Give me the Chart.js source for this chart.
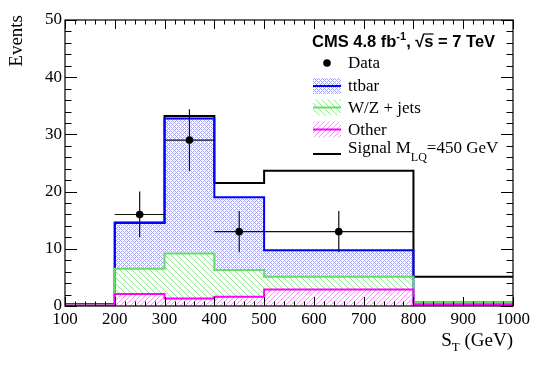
<!DOCTYPE html>
<html lang="en">
<head>
<meta charset="UTF-8">
<title>S_T distribution</title>
<script src="https://cdn.jsdelivr.net/npm/chart.js"></script>
<style>
  body { margin: 0; padding: 0; background: #fff; }
  #wrap { width: 540px; height: 366px; }
</style>
</head>
<body>
<div id="wrap"><canvas id="stChart"></canvas></div>
<script>
// bin edges in S_T (GeV)
const binEdges = [100, 200, 300, 400, 500, 800, 1000];
// per-bin yields, stacked in this order: other, W/Z + jets, ttbar, signal
const otherYield  = [0.1, 2.1, 1.3, 1.6, 2.9, 0.25];
const wzYield     = [0.1, 4.4, 7.9, 4.7, 2.2, 0.35];
const ttbarYield  = [0.1, 8.0, 23.6, 12.7, 4.65, 0.0];
const signalYield = [0.0, 0.1, 0.4, 2.5, 13.9, 4.5];
// data points
const dataX = [250, 350, 450, 650];
const dataY = [16, 29, 13, 13];
const dataErr = [4.0, 5.4, 3.6, 3.6];
const dataBinLo = [200, 300, 400, 500];
const dataBinHi = [300, 400, 500, 800];
// tick labels
const xTickValues = [100, 200, 300, 400, 500, 600, 700, 800, 900, 1000];
const yTickValues = [0, 10, 20, 30, 40, 50];

const SERIF = '"Liberation Serif", "DejaVu Serif", serif';
const SANS = '"Liberation Sans", Arial, sans-serif';

// cumulative stack
function addArr(a, b) { return a.map((v, i) => v + b[i]); }
const stackOther = otherYield.slice();
const stackWZ = addArr(stackOther, wzYield);
const stackTT = addArr(stackWZ, ttbarYield);
const stackSig = addArr(stackTT, signalYield);

// histogram as step points at bin edges
function toSteps(vals) {
    const pts = vals.map((v, i) => ({ x: binEdges[i], y: v }));
    pts.push({ x: binEdges[binEdges.length - 1], y: vals[vals.length - 1] });
    return pts;
}

// pixel hatch patterns (ROOT style)
function makePattern(size, color, test) {
    const c = document.createElement('canvas');
    c.width = size; c.height = size;
    const g = c.getContext('2d');
    g.fillStyle = color;
    for (let x = 0; x < size; x++) {
        for (let y = 0; y < size; y++) {
            if (test(x, y)) g.fillRect(x, y, 1, 1);
        }
    }
    return g.createPattern(c, 'repeat');
}
const ttbarFill = makePattern(4, 'rgba(90,90,255,0.55)', (x, y) => (x + y) % 4 === 0 || (x - y + 4) % 4 === 0);
const wzFill = makePattern(6, 'rgba(140,225,140,0.9)', (x, y) => (x - y + 6) % 6 === 0);
const otherFill = makePattern(5, 'rgba(255,120,255,0.85)', (x, y) => (x + y) % 5 === 0);

const xAxisH = 60, yAxisW = 65;

// error bars on the data points
const errorBars = {
    id: 'errorBars',
    afterDatasetsDraw(chart) {
        const ctx = chart.ctx, xs = chart.scales.x, ys = chart.scales.y;
        ctx.save();
        ctx.strokeStyle = '#111';
        ctx.lineWidth = 1.2;
        dataX.forEach((x, i) => {
            const px = xs.getPixelForValue(x), py = ys.getPixelForValue(dataY[i]);
            ctx.beginPath();
            ctx.moveTo(xs.getPixelForValue(dataBinLo[i]), py);
            ctx.lineTo(xs.getPixelForValue(dataBinHi[i]), py);
            ctx.moveTo(px, ys.getPixelForValue(dataY[i] + dataErr[i]));
            ctx.lineTo(px, ys.getPixelForValue(dataY[i] - dataErr[i]));
            ctx.stroke();
            ctx.beginPath();
            ctx.fillStyle = '#000';
            ctx.arc(px, py, 3.8, 0, Math.PI * 2);
            ctx.fill();
        });
        ctx.restore();
    }
};

function richText(ctx, x, y, parts) {
    let cx = x;
    parts.forEach(p => {
        ctx.font = p.font;
        ctx.fillText(p.t, cx, y + (p.dy || 0));
        const w = ctx.measureText(p.t).width;
        if (p.overline) {
            ctx.save();
            ctx.lineWidth = 1.2;
            ctx.beginPath();
            ctx.moveTo(cx - 1, y - p.overline);
            ctx.lineTo(cx + w, y - p.overline);
            ctx.stroke();
            ctx.restore();
        }
        cx += w;
    });
    return cx;
}

// ROOT-like frame with inside ticks, titles and legend
const frame = {
    id: 'frame',
    afterDraw(chart) {
        const ctx = chart.ctx, a = chart.chartArea, xs = chart.scales.x, ys = chart.scales.y;
        ctx.save();
        ctx.strokeStyle = '#000';
        ctx.lineWidth = 1.2;
        ctx.strokeRect(a.left, a.top, a.right - a.left, a.bottom - a.top);
        ctx.beginPath();
        for (let v = 100; v <= 1000; v += 20) {
            const px = Math.round(xs.getPixelForValue(v)) + 0.5;
            const len = (v % 100 === 0) ? 9 : 4.5;
            ctx.moveTo(px, a.bottom); ctx.lineTo(px, a.bottom - len);
            ctx.moveTo(px, a.top); ctx.lineTo(px, a.top + len);
        }
        for (let v = 0; v <= 50; v += 2) {
            const py = Math.round(ys.getPixelForValue(v)) + 0.5;
            const len = (v % 10 === 0) ? 12 : 6.5;
            ctx.moveTo(a.left, py); ctx.lineTo(a.left + len, py);
            ctx.moveTo(a.right, py); ctx.lineTo(a.right - len, py);
        }
        ctx.lineWidth = 1;
        ctx.stroke();

        ctx.fillStyle = '#000';
        ctx.textBaseline = 'alphabetic';
        // axis titles
        ctx.save();
        ctx.translate(22, 15);
        ctx.rotate(-Math.PI / 2);
        ctx.textAlign = 'right';
        ctx.font = '19px ' + SERIF;
        ctx.fillText('Events', 0, 0);
        ctx.restore();

        ctx.textAlign = 'left';
        ctx.font = '19px ' + SERIF;
        const wS = ctx.measureText('S').width;
        const wRest = ctx.measureText(' (GeV)').width;
        ctx.font = '13px ' + SERIF;
        const wT = ctx.measureText('T').width;
        richText(ctx, a.right - wS - wT - wRest, 346, [
            { t: 'S', font: '19px ' + SERIF },
            { t: 'T', font: '13px ' + SERIF, dy: 5 },
            { t: ' (GeV)', font: '19px ' + SERIF }
        ]);

        // CMS label
        const bold = 'bold 16.5px ' + SANS;
        richText(ctx, 312, 47, [
            { t: 'CMS 4.8 fb', font: bold },
            { t: '-1', font: 'bold 11px ' + SANS, dy: -7 },
            { t: ', \u221A', font: bold },
            { t: 's', font: bold, overline: 13 },
            { t: ' = 7 TeV', font: bold }
        ]);

        // legend
        const bx = 313, bw = 28, tx = 348;
        ctx.font = '17px ' + SERIF;
        ctx.textBaseline = 'middle';
        ctx.beginPath();
        ctx.arc(327, 63, 3.8, 0, Math.PI * 2);
        ctx.fill();
        ctx.fillText('Data', tx, 64);

        const boxes = [
            { y: 86, fill: ttbarFill, line: '#0000ff', label: 'ttbar' },
            { y: 107.5, fill: wzFill, line: '#66dd66', label: 'W/Z + jets' },
            { y: 129.5, fill: otherFill, line: '#ff00ff', label: 'Other' }
        ];
        boxes.forEach(b => {
            ctx.fillStyle = b.fill;
            ctx.fillRect(bx, b.y - 8, bw, 16);
            ctx.strokeStyle = b.line;
            ctx.lineWidth = 2;
            ctx.beginPath();
            ctx.moveTo(bx, b.y); ctx.lineTo(bx + bw, b.y);
            ctx.stroke();
            ctx.fillStyle = '#000';
            ctx.fillText(b.label, tx, b.y + 1);
        });
        ctx.strokeStyle = '#000';
        ctx.lineWidth = 2;
        ctx.beginPath();
        ctx.moveTo(bx, 154); ctx.lineTo(bx + bw, 154);
        ctx.stroke();
        ctx.textBaseline = 'alphabetic';
        richText(ctx, tx, 153, [
            { t: 'Signal M', font: '17px ' + SERIF },
            { t: 'LQ', font: '12px ' + SERIF, dy: 8 },
            { t: '=450 GeV', font: '17px ' + SERIF }
        ]);
        ctx.restore();
    }
};

function histSet(label, vals, color, fill, bg, order) {
    return {
        type: 'line',
        label: label,
        data: toSteps(vals),
        stepped: 'before',
        borderColor: color,
        borderWidth: 2,
        backgroundColor: bg || 'transparent',
        fill: fill,
        pointRadius: 0,
        order: order
    };
}

new Chart(document.getElementById('stChart'), {
    type: 'scatter',
    data: {
        datasets: [
            {
                type: 'scatter',
                label: 'Data',
                data: dataX.map((x, i) => ({ x: x, y: dataY[i] })),
                pointRadius: 0,
                order: 0
            },
            histSet('Other', stackOther, '#ff00ff', 'origin', otherFill, 1),
            histSet('W/Z + jets', stackWZ, '#66dd66', 1, wzFill, 2),
            histSet('ttbar', stackTT, '#0000ff', 2, ttbarFill, 3),
            histSet('Signal M_LQ=450 GeV', stackSig, '#000000', false, null, 4)
        ]
    },
    options: {
        responsive: true,
        maintainAspectRatio: false,
        animation: false,
        layout: { padding: { top: 20, right: 27, left: 0, bottom: 0 } },
        plugins: {
            legend: { display: false },
            tooltip: { enabled: false }
        },
        scales: {
            x: {
                type: 'linear',
                min: 100,
                max: 1000,
                afterBuildTicks: s => { s.ticks = xTickValues.map(v => ({ value: v })); },
                afterFit: s => { s.height = xAxisH; },
                grid: { display: false, drawTicks: false },
                border: { display: false },
                ticks: {
                    color: '#000',
                    font: { family: SERIF, size: 17 },
                    padding: 3,
                    maxRotation: 0,
                    autoSkip: false,
                    callback: v => String(v)
                }
            },
            y: {
                type: 'linear',
                min: 0,
                max: 50,
                afterBuildTicks: s => { s.ticks = yTickValues.map(v => ({ value: v })); },
                afterFit: s => { s.width = yAxisW; },
                grid: { display: false, drawTicks: false },
                border: { display: false },
                ticks: {
                    color: '#000',
                    font: { family: SERIF, size: 17 },
                    padding: 3,
                    callback: v => String(v)
                }
            }
        }
    },
    plugins: [errorBars, frame]
});
</script>
</body>
</html>
